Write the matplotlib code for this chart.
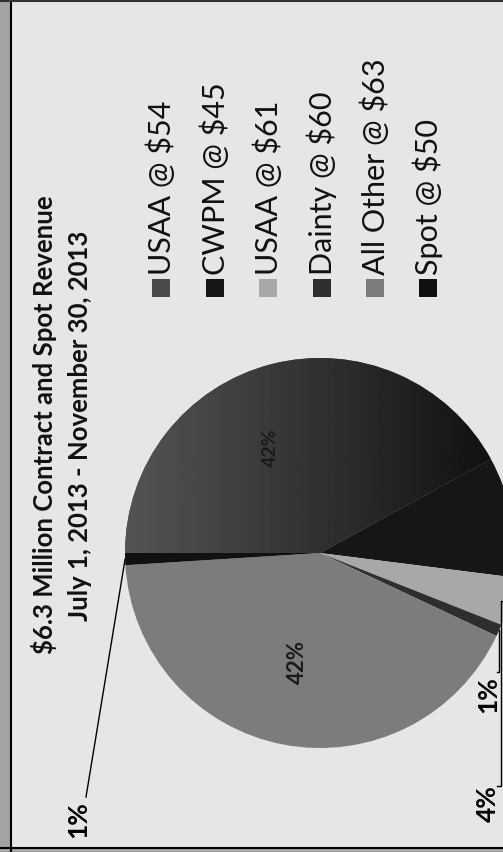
import numpy as np
import matplotlib.pyplot as plt
from matplotlib.patches import Rectangle

labels = ['USAA @ $54', 'CWPM @ $45', 'USAA @ $61', 'Dainty @ $60',
          'All Other @ $63', 'Spot @ $50']
shares = [42, 10, 4, 1, 42, 1]
pct_text = ['42%', '', '4%', '1%', '42%', '1%']
colors = ['#4a4a4a', '#161616', '#a8a8a8', '#2e2e2e', '#7c7c7c', '#111111']

W, H = 503, 852
BG = '#e6e6e6'

fig = plt.figure(figsize=(W / 100, H / 100), dpi=100)
fig.patch.set_facecolor(BG)
ax = fig.add_axes([0, 0, 1, 1])

cx, cy, R = 320, 553, 195
wedges, _ = ax.pie(shares, colors=colors, startangle=180, counterclock=True,
                   center=(cx, cy), radius=R,
                   wedgeprops=dict(linewidth=0))
ax.set_xlim(0, W)
ax.set_ylim(H, 0)  # pixel-like coords, y down -> pie runs clockwise on screen
ax.set_aspect('equal')
ax.axis('off')

# gradient shading on the big dark slice (lighter left, black on the right)
grad = np.linspace(0.33, 0.05, 256).reshape(1, -1)
im = ax.imshow(grad, cmap='gray', vmin=0, vmax=1, aspect='auto',
               extent=(cx - R, cx + R, cy, cy - R), zorder=1.5)
im.set_clip_path(wedges[0])

# percentage labels inside the big slices
inner_pos = {0: (270, 448, 14), 4: (297, 662, 16)}
for i, (x, y, fs) in inner_pos.items():
    ax.text(x, y, pct_text[i], rotation=90, ha='center', va='center',
            fontsize=fs, fontweight='bold', family='Lato', color='#1a1a1a',
            zorder=3)


def edge_point(w, r=R):
    th = np.deg2rad((w.theta1 + w.theta2) / 2)
    return cx + r * np.cos(th), cy + r * np.sin(th)


# outside labels with leader lines
ex, ey = edge_point(wedges[5])
ax.plot([86, ex], [797, ey], color='black', lw=1, zorder=3)
ax.text(78, 820, pct_text[5], rotation=90, ha='center', va='center',
        fontsize=19, fontweight='bold', family='Lato', color='black')

ex, ey = edge_point(wedges[3])
ax.plot([497, 499, 499, ex], [672, 672, ey, ey], color='black', lw=1, zorder=3)
ax.text(488, 695, pct_text[3], rotation=90, ha='center', va='center',
        fontsize=19, fontweight='bold', family='Lato', color='black')

ex, ey = edge_point(wedges[2])
ax.plot([497, 501, 501, ex], [786, 786, ey, ey], color='black', lw=1, zorder=3)
ax.text(488, 804, pct_text[2], rotation=90, ha='center', va='center',
        fontsize=19, fontweight='bold', family='Lato', color='black')

# title (rotated with the page)
ax.text(44, 425, '$6.3 Million Contract and Spot Revenue', rotation=90,
        ha='center', va='center', fontsize=18.5, fontweight='bold',
        family='Lato', color='#111111')
ax.text(80, 426, 'July 1, 2013 - November 30, 2013', rotation=90,
        ha='center', va='center', fontsize=18.5, fontweight='bold',
        family='Lato', color='#111111')

# legend, drawn by hand because it is rotated
leg_x = [161, 215, 268, 322, 375, 428]
for x, lab, c in zip(leg_x, labels, colors):
    ax.add_patch(Rectangle((x - 9, 279), 18, 18, facecolor=c,
                           edgecolor='none', zorder=3))
    ax.text(x, 275, lab, rotation=90, rotation_mode='anchor', ha='left',
            va='center', fontsize=22, family='Lato', color='#111111')

# scanned page frame
ax.add_patch(Rectangle((0, 0), 10, H, facecolor='#a3a3a3', edgecolor='none'))
ax.plot([11, 11], [0, H], color='black', lw=1.5)
ax.add_patch(Rectangle((0, 848), W, 4, facecolor='#a3a3a3', edgecolor='none'))
ax.plot([0, W], [847.5, 847.5], color='black', lw=1.5)
ax.plot([0, W], [1, 1], color='#333333', lw=1.5)

fig.savefig('out.png', dpi=100, facecolor=BG)
